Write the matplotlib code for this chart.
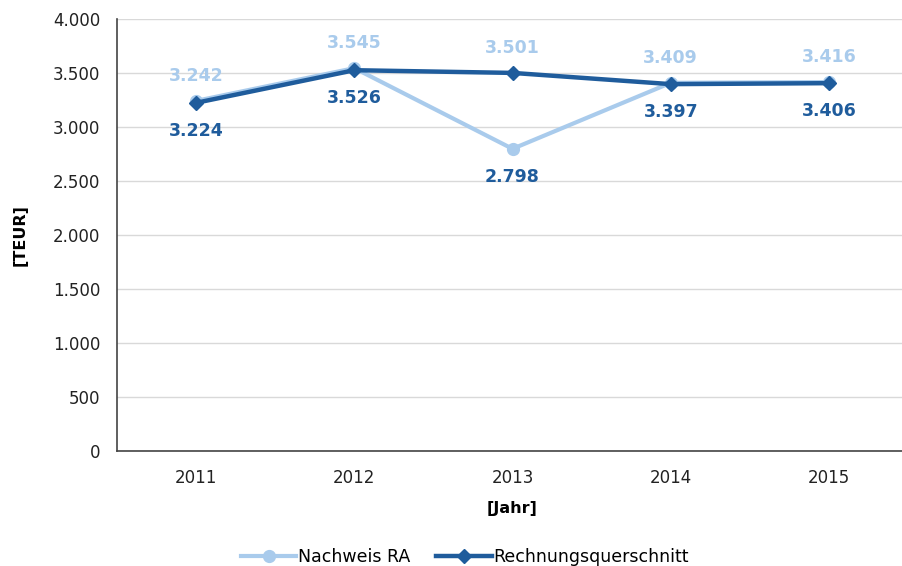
import numpy as np
import matplotlib.pyplot as plt
from matplotlib.ticker import FuncFormatter

# chart data
years = ["2011", "2012", "2013", "2014", "2015"]
nachweis_ra = [3242, 3545, 2798, 3409, 3416]
rechnungsquerschnitt = [3224, 3526, 3501, 3397, 3406]

light = "#a9cbec"
dark = "#1f5c9c"

plt.rcParams["font.family"] = "sans-serif"
plt.rcParams["font.sans-serif"] = ["DejaVu Sans"]

fig = plt.figure(figsize=(9.03, 5.66), dpi=100)
ax = fig.add_axes([0.1296, 0.2032, 0.876, 0.7632])

x = np.arange(len(years))
ax.plot(x, nachweis_ra, color=light, lw=3, marker="o", ms=8.5,
        label="Nachweis RA", zorder=3)
ax.plot(x, rechnungsquerschnitt, color=dark, lw=3.2, marker="D", ms=7,
        label="Rechnungsquerschnitt", zorder=4)

# value labels: higher value above in light, lower value below in dark
fmt = lambda v: f"{v:,}".replace(",", ".")
top = np.maximum(nachweis_ra, rechnungsquerschnitt)
bottom = np.minimum(nachweis_ra, rechnungsquerschnitt)
for i in range(len(years)):
    ax.annotate(fmt(int(top[i])), (x[i], top[i]), xytext=(0, 18),
                textcoords="offset points", ha="center", va="center",
                color=light, fontsize=12.5, fontweight="bold")
    ax.annotate(fmt(int(bottom[i])), (x[i], bottom[i]), xytext=(0, -20),
                textcoords="offset points", ha="center", va="center",
                color=dark, fontsize=12.5, fontweight="bold")

ax.set_xlim(-0.5, len(years) - 0.5)
ax.set_ylim(0, 4000)
ax.set_yticks(np.arange(0, 4001, 500))
ax.yaxis.set_major_formatter(FuncFormatter(lambda v, p: fmt(int(v))))
ax.set_xticks(x)
ax.set_xticklabels(years)
ax.tick_params(length=0, labelsize=12, colors="#222222", pad=13)
ax.tick_params(axis="y", pad=12)

ax.grid(axis="y", color="#d9d9d9", lw=1)
ax.set_axisbelow(True)
for s in ["top", "right"]:
    ax.spines[s].set_visible(False)
for s in ["left", "bottom"]:
    ax.spines[s].set_color("#444444")
    ax.spines[s].set_linewidth(1.2)

ax.set_xlabel("[Jahr]", fontsize=11.5, fontweight="bold", labelpad=10)
ax.set_ylabel("[TEUR]", fontsize=11.5, fontweight="bold", labelpad=18)

ax.legend(loc="center", bbox_to_anchor=(465 / 903, 1 - 557 / 566),
          bbox_transform=fig.transFigure, ncol=2, frameon=False,
          fontsize=12.5, handlelength=3.2, columnspacing=1.5, handletextpad=0.1)

fig.savefig("out.png", dpi=100)
